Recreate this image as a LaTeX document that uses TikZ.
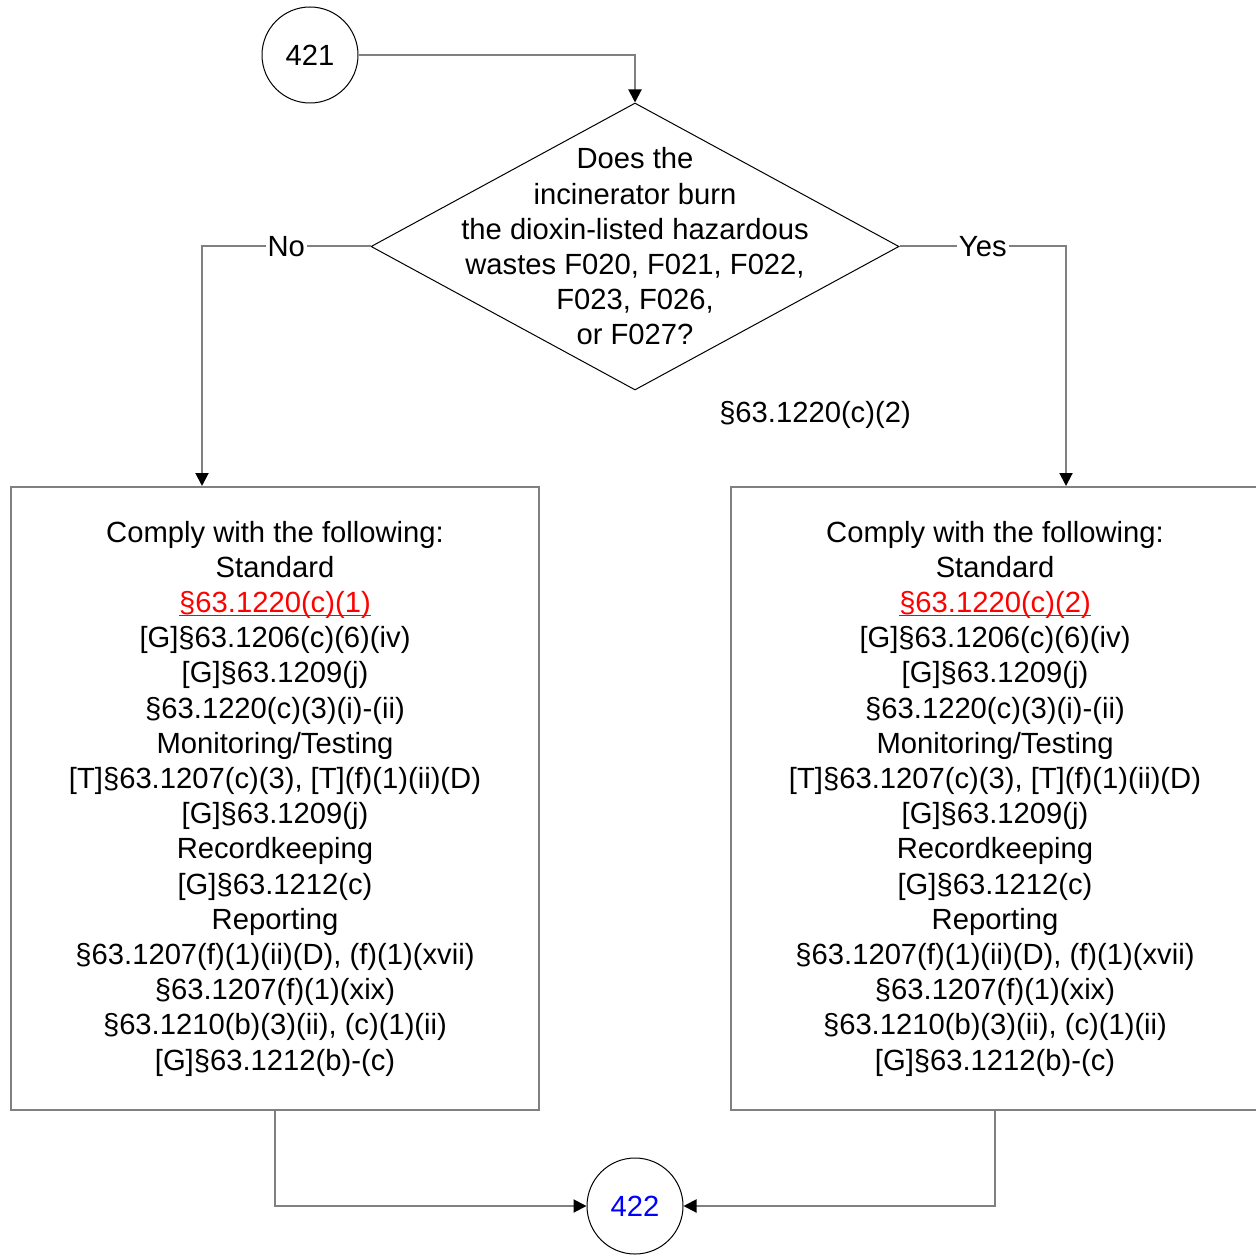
\documentclass[tikz,border=0pt]{standalone}
\usepackage{fontspec}
\setmainfont{Liberation Sans}
\usetikzlibrary{shapes.geometric,arrows.meta}
\definecolor{linegray}{RGB}{128,128,128}
\definecolor{refred}{RGB}{255,0,0}
\definecolor{refblue}{RGB}{0,0,255}
\newcommand\redlink[1]{\textcolor{refred}{\setbox0\hbox{#1}\rlap{\rule[-2pt]{\wd0}{0.7pt}}\box0}}
\begin{document}
\begin{tikzpicture}[x=0.5pt,y=-0.5pt,>={Triangle[length=6.5pt,width=6.5pt,color=black]},
  every node/.style={font=\fontsize{14.6pt}{17.6pt}\selectfont},
  conn/.style={draw,circle,line width=0.5pt,minimum size=48pt,inner sep=0pt},
  decision/.style={draw,diamond,line width=0.5pt,minimum width=264pt,minimum height=143.5pt,inner sep=0pt},
  task/.style={draw=linegray,line width=1pt,minimum width=264pt,minimum height=311.5pt,align=center,inner sep=0pt},
  flow/.style={->,draw=linegray,line width=1pt},
  lbl/.style={fill=white,inner sep=1pt}]

        \useasboundingbox (0,0) rectangle (1256,1256);

        \node[conn] (C421) at (310,55) {421};
        \node[decision,label={[align=center]center:{Does the\\incinerator burn\\the dioxin-listed hazardous\\wastes F020, F021, F022,\\F023, F026,\\or F027?}}] (Burn) at (635,246.5) {};
        \node (Cite) at (815,415) {§63.1220(c)(2)};

        \node[task] (NoBox) at (275,798.5) {Comply with the following:\\Standard\\\redlink{§63.1220(c)(1)}\\{}[G]§63.1206(c)(6)(iv)\\{}[G]§63.1209(j)\\§63.1220(c)(3)(i)-(ii)\\Monitoring/Testing\\{}[T]§63.1207(c)(3), [T](f)(1)(ii)(D)\\{}[G]§63.1209(j)\\Recordkeeping\\{}[G]§63.1212(c)\\Reporting\\§63.1207(f)(1)(ii)(D), (f)(1)(xvii)\\§63.1207(f)(1)(xix)\\§63.1210(b)(3)(ii), (c)(1)(ii)\\{}[G]§63.1212(b)-(c)};
        \node[task] (YesBox) at (995,798.5) {Comply with the following:\\Standard\\\redlink{§63.1220(c)(2)}\\{}[G]§63.1206(c)(6)(iv)\\{}[G]§63.1209(j)\\§63.1220(c)(3)(i)-(ii)\\Monitoring/Testing\\{}[T]§63.1207(c)(3), [T](f)(1)(ii)(D)\\{}[G]§63.1209(j)\\Recordkeeping\\{}[G]§63.1212(c)\\Reporting\\§63.1207(f)(1)(ii)(D), (f)(1)(xvii)\\§63.1207(f)(1)(xix)\\§63.1210(b)(3)(ii), (c)(1)(ii)\\{}[G]§63.1212(b)-(c)};

        \node[conn,text=refblue] (C422) at (635,1206) {422};

        \draw[flow] (C421) -| (Burn.north);

        \draw[flow] (Burn.west) -| node[pos=0.25,lbl] {No} ([xshift=96pt]NoBox.north west);

        \draw[flow] (Burn.east) -| node[pos=0.25,lbl] {Yes} ([xshift=168pt]YesBox.north west);

        \draw[flow] (NoBox.south) |- (C422.west);

        \draw[flow] (YesBox.south) |- (C422.east);

\end{tikzpicture}
\end{document}
